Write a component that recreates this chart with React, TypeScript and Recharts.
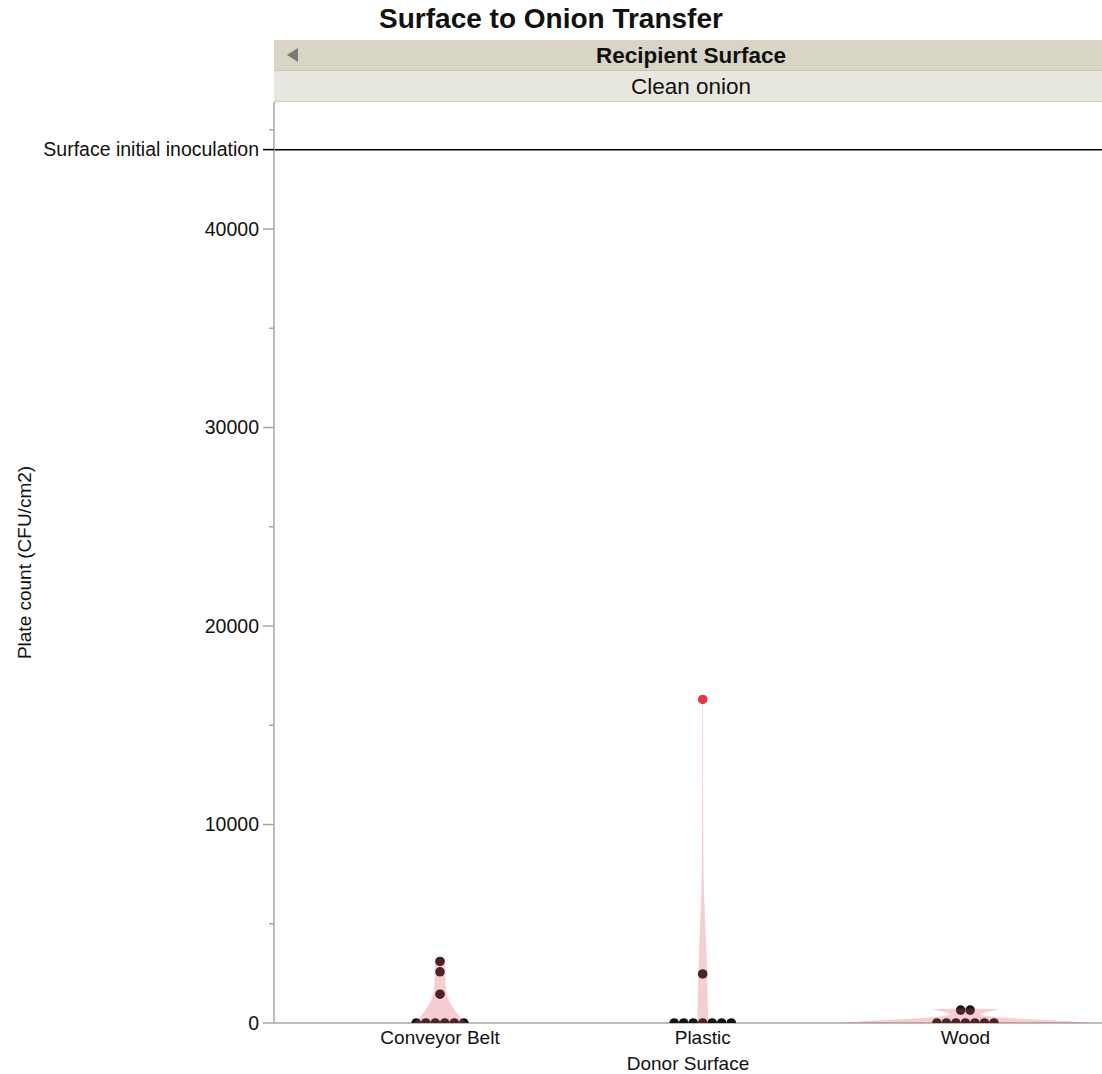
import { ComposedChart, Scatter, XAxis, YAxis, ReferenceLine } from "recharts";

const groups = ["Conveyor Belt", "Plastic", "Wood"];

// plate counts per donor surface (CFU/cm2)
const conveyorBelt = [0, 0, 0, 0, 0, 0, 1450, 2580, 3100];
const plastic = [0, 0, 0, 0, 0, 0, 0, 2470];
const plasticFlagged = [16300];
const wood = [0, 0, 0, 0, 0, 0, 0, 650, 650];

// violin outlines: [value, half width in category units]
const conveyorViolin = [
  [0, 0.1], [250, 0.08], [570, 0.059], [1070, 0.036], [1500, 0.025],
  [1900, 0.021], [2500, 0.02], [3000, 0.019], [3200, 0.013], [3340, 0],
];
const plasticViolin = [
  [0, 0.021], [1000, 0.019], [2500, 0.017], [4200, 0.0125], [5000, 0.0095],
  [6700, 0.0046], [8000, 0.003], [10000, 0.002], [14000, 0.0015], [16300, 0.0012], [16500, 0],
];
const woodViolin = [
  [0, 0.476], [100, 0.381], [200, 0.228], [300, 0.114], [400, 0.057],
  [480, 0.065], [570, 0.088], [650, 0.114], [705, 0.129], [730, 0],
];

const yTicks = [0, 5000, 10000, 15000, 20000, 25000, 30000, 35000, 40000, 44000, 45000];
const inoculation = 44000;

const FONT = "'Liberation Sans', Arial, sans-serif";
const GREY = "#a6a6a6";
const DOT_STEP = 0.0362;

function swarm(values: number[], pos: number) {
  const counts = new Map<number, number>();
  values.forEach((v) => counts.set(v, (counts.get(v) || 0) + 1));
  const seen = new Map<number, number>();
  return values.map((v) => {
    const n = counts.get(v)!;
    const i = seen.get(v) || 0;
    seen.set(v, i + 1);
    return { x: pos + (i - (n - 1) / 2) * DOT_STEP, y: v };
  });
}

function outline(profile: number[][], pos: number) {
  const right = profile.map(([v, w]) => ({ x: pos + w, y: v }));
  const left = profile
    .slice()
    .reverse()
    .map(([v, w]) => ({ x: pos - w, y: v }));
  return [...right, ...left];
}

// eslint-disable-next-line @typescript-eslint/no-explicit-any
const violinLine = (props: any) => {
  const pts: { x: number; y: number }[] = props.points || [];
  const d = pts.map((p, i) => `${i ? "L" : "M"}${p.x},${p.y}`).join("") + "Z";
  return <path d={d} fill="#e0505a" fillOpacity={0.28} stroke="none" />;
};

// eslint-disable-next-line @typescript-eslint/no-explicit-any
const dot = (color: string) => (p: any) => <circle cx={p.cx} cy={p.cy} r={4.8} fill={color} />;

const noShape = () => <g />;

// eslint-disable-next-line @typescript-eslint/no-explicit-any
function YTick(props: any) {
  const { x, y, payload } = props;
  const v = payload.value;
  if (v === inoculation) {
    return (
      <g>
        <line x1={x - 11} x2={x} y1={y} y2={y} stroke="#000" strokeWidth={1.5} />
        <text x={x - 15} y={y} dy="0.35em" textAnchor="end" fontSize={19.5} fontFamily={FONT} fill="#111">
          Surface initial inoculation
        </text>
      </g>
    );
  }
  if (v % 10000 === 0) {
    return (
      <g>
        <line x1={x - 11} x2={x} y1={y} y2={y} stroke={GREY} strokeWidth={1.5} />
        <text x={x - 15} y={y} dy="0.35em" textAnchor="end" fontSize={19.5} fontFamily={FONT} fill="#111">
          {v}
        </text>
      </g>
    );
  }
  return <line x1={x - 5} x2={x} y1={y} y2={y} stroke={GREY} strokeWidth={1.5} />;
}

// eslint-disable-next-line @typescript-eslint/no-explicit-any
function YTitle(props: any) {
  const vb = props.viewBox;
  const cx = vb.x + 24;
  const cy = vb.y + vb.height / 2;
  return (
    <text
      x={cx}
      y={cy}
      transform={`rotate(-90, ${cx}, ${cy})`}
      textAnchor="middle"
      dominantBaseline="central"
      fontSize={19}
      fontFamily={FONT}
      fill="#111"
    >
      Plate count (CFU/cm2)
    </text>
  );
}

// eslint-disable-next-line @typescript-eslint/no-explicit-any
function XTitle(props: any) {
  const vb = props.viewBox;
  return (
    <text
      x={vb.x + vb.width / 2}
      y={vb.y + vb.height - 4}
      textAnchor="middle"
      fontSize={19}
      fontFamily={FONT}
      fill="#111"
    >
      Donor Surface
    </text>
  );
}

export default function App() {
  return (
    <div
      style={{
        position: "absolute",
        left: 0,
        top: 0,
        width: 1102,
        height: 1074,
        background: "#fff",
        fontFamily: FONT,
        overflow: "hidden",
      }}
    >
      <ComposedChart width={1102} height={1074} margin={{ top: 102, right: 0, bottom: 0, left: 0 }}>
        <XAxis
          type="number"
          dataKey="x"
          domain={[0.368, 3.52]}
          allowDataOverflow
          ticks={[1, 2, 3]}
          interval={0}
          tickFormatter={(i: number) => groups[i - 1]}
          tickLine={false}
          tickSize={0}
          tickMargin={8}
          axisLine={{ stroke: GREY, strokeWidth: 1.5 }}
          tick={{ fill: "#111", fontSize: 19, fontFamily: FONT }}
          height={51}
          label={<XTitle />}
        />
        <YAxis
          type="number"
          dataKey="y"
          domain={[0, 46400]}
          allowDataOverflow
          ticks={yTicks}
          interval={0}
          width={274}
          tickSize={0}
          tickMargin={0}
          tickLine={false}
          axisLine={{ stroke: GREY, strokeWidth: 1.5 }}
          tick={(p: any) => <YTick {...p} />}
          label={<YTitle />}
        />
        <ReferenceLine y={inoculation} stroke="#000" strokeWidth={1.5} />
        <Scatter data={swarm(conveyorBelt, 1)} shape={dot("#141414")} isAnimationActive={false} />
        <Scatter data={swarm(plastic, 2)} shape={dot("#141414")} isAnimationActive={false} />
        <Scatter data={swarm(plasticFlagged, 2)} shape={dot("#dd3a46")} isAnimationActive={false} />
        <Scatter data={swarm(wood, 3)} shape={dot("#141414")} isAnimationActive={false} />
        <Scatter data={outline(conveyorViolin, 1)} shape={noShape} line={violinLine} lineType="joint" isAnimationActive={false} />
        <Scatter data={outline(plasticViolin, 2)} shape={noShape} line={violinLine} lineType="joint" isAnimationActive={false} />
        <Scatter data={outline(woodViolin, 3)} shape={noShape} line={violinLine} lineType="joint" isAnimationActive={false} />
      </ComposedChart>

      <div
        style={{
          position: "absolute",
          left: 0,
          top: 0,
          width: 1102,
          height: 38,
          lineHeight: "38px",
          textAlign: "center",
          fontSize: 28,
          fontWeight: "bold",
          color: "#111",
        }}
      >
        Surface to Onion Transfer
      </div>
      <div
        style={{
          position: "absolute",
          left: 274,
          top: 40,
          width: 834,
          height: 31,
          lineHeight: "31px",
          background: "#d8d5c6",
          borderBottom: "1px solid #c9c6b8",
          boxSizing: "border-box",
          textAlign: "center",
          fontSize: 22.5,
          fontWeight: "bold",
          color: "#111",
        }}
      >
        Recipient Surface
        <div
          style={{
            position: "absolute",
            left: 13,
            top: 8,
            width: 0,
            height: 0,
            borderTop: "7px solid transparent",
            borderBottom: "7px solid transparent",
            borderRight: "11px solid #7a7a7a",
          }}
        />
      </div>
      <div
        style={{
          position: "absolute",
          left: 274,
          top: 71,
          width: 834,
          height: 31,
          lineHeight: "31px",
          background: "#e8e7df",
          borderBottom: "1px solid #d2d0c6",
          boxSizing: "border-box",
          textAlign: "center",
          fontSize: 22.5,
          color: "#111",
        }}
      >
        Clean onion
      </div>
    </div>
  );
}
